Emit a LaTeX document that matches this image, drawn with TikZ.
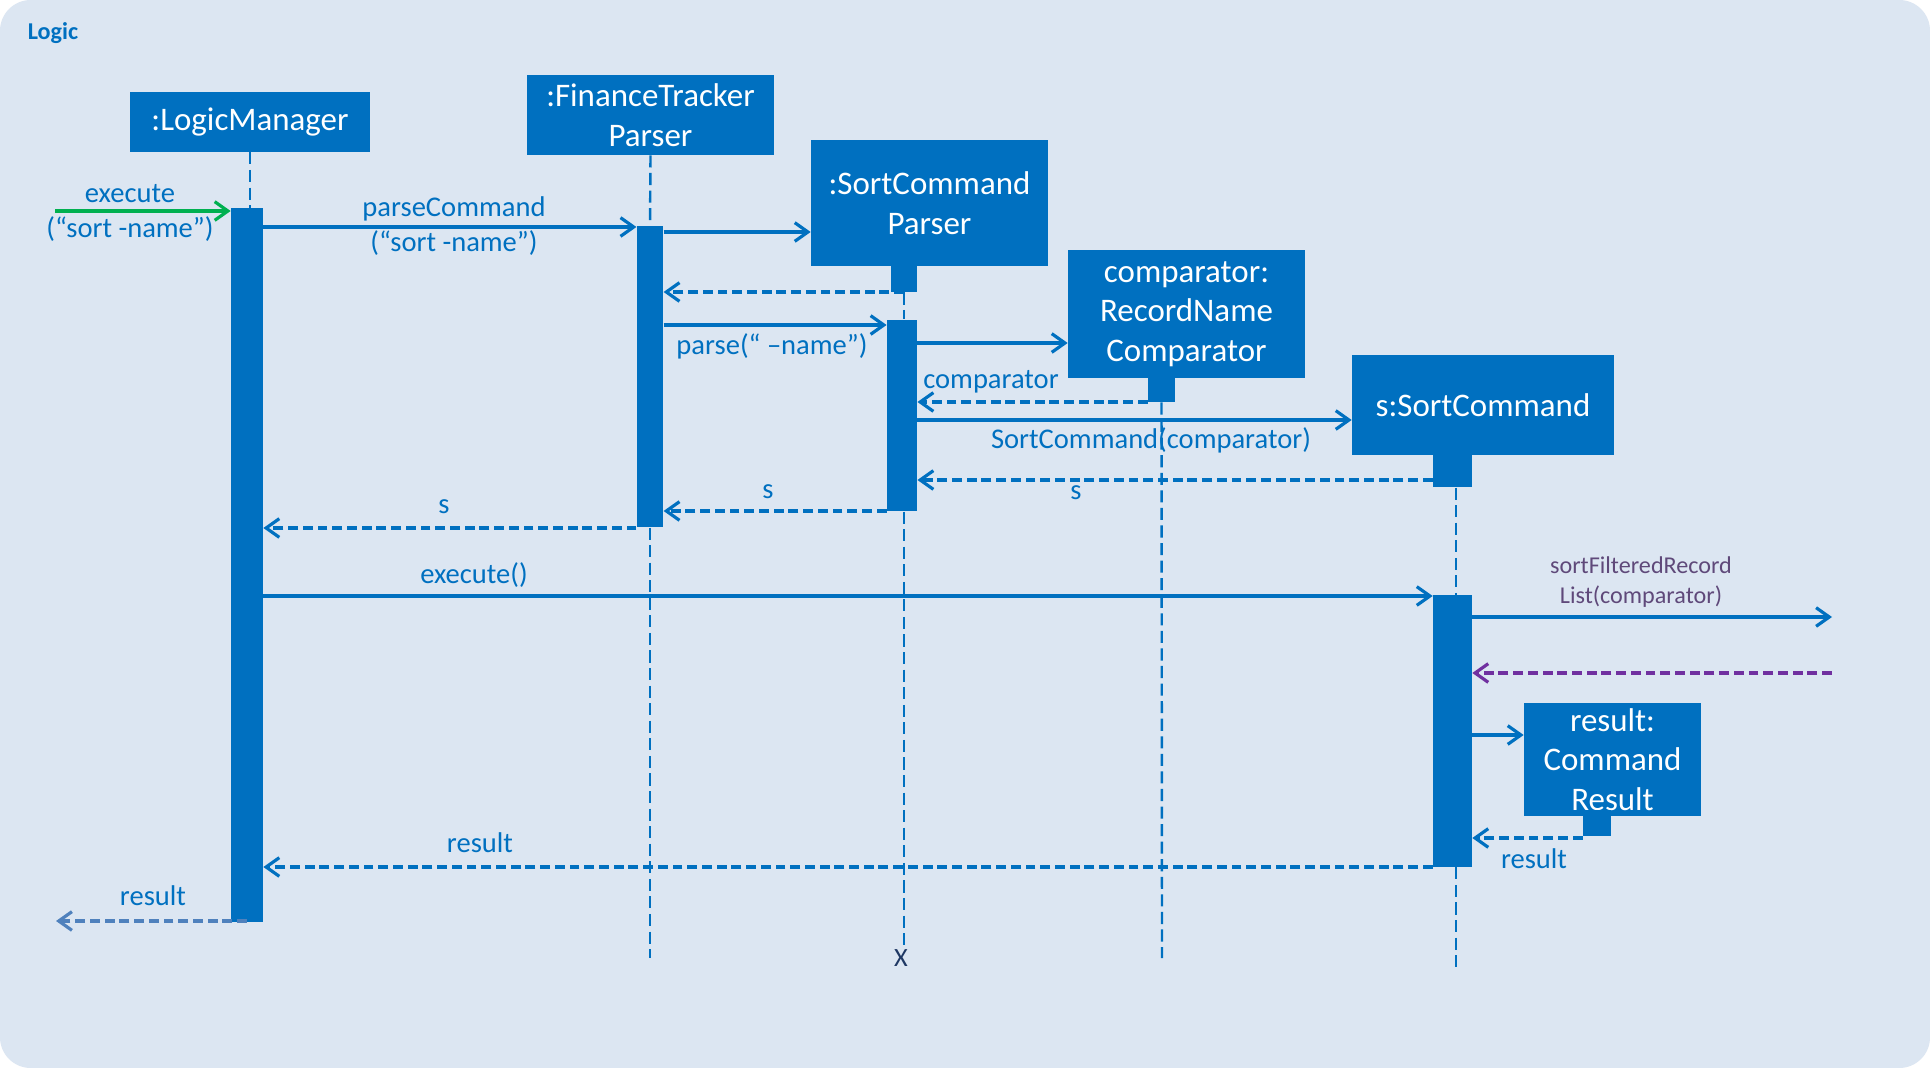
\documentclass[tikz,border=0pt]{standalone}
\usepackage{fontspec}
\setmainfont{Carlito}
\usetikzlibrary{arrows.meta}
\definecolor{bgblue}{HTML}{DCE6F2}
\definecolor{objblue}{HTML}{0070C0}
\definecolor{callgreen}{HTML}{00B050}
\definecolor{retpurple}{HTML}{7030A0}
\definecolor{txtpurple}{HTML}{5F497A}
\definecolor{lightret}{HTML}{4F81BD}
\definecolor{navy}{HTML}{1F3864}

\begin{document}
\begin{tikzpicture}[x=0.016cm,y=-0.016cm,
  obj/.style={fill=objblue,text=white,inner sep=0pt,align=center,font=\fontsize{15}{18}\selectfont},
  actbar/.style={fill=objblue,inner sep=0pt},
  life/.style={draw=objblue,line width=1.1pt,dash pattern=on 5.5pt off 2.5pt},
  msg/.style={draw=objblue,line width=1.45pt,-{Straight Barb[length=6pt,width=8.5pt]}},
  ret/.style={msg,dash pattern=on 4.5pt off 2.2pt},
  lbl/.style={text=objblue,inner sep=0pt,align=center,font=\fontsize{13}{16}\selectfont}]
\useasboundingbox (0,0) rectangle (1930,1068);
\fill[white] (0,0) rectangle (1930,1068);
\fill[bgblue,rounded corners=14pt] (0,0) rectangle (1930,1068);
\node[text=objblue,inner sep=0pt,font=\bfseries\fontsize{11}{13}\selectfont] (title) at (53,33) {Logic};

\node[obj,minimum width=3.84cm,minimum height=0.96cm] (lm) at (250,122) {:LogicManager};
\node[obj,minimum width=3.95cm,minimum height=1.28cm] (ftp) at (650.5,115) {:FinanceTracker\\Parser};
\node[obj,minimum width=3.79cm,minimum height=2.02cm] (scp) at (929.5,203) {:SortCommand\\Parser};
\node[actbar,minimum width=0.42cm,minimum height=0.48cm] (scpstub) at (904,277) {};
\node[obj,minimum width=3.79cm,minimum height=2.05cm] (cmp) at (1186.5,314) {comparator:\\RecordName\\Comparator};
\node[actbar,minimum width=0.43cm,minimum height=0.45cm] (cmpstub) at (1161.5,388) {};
\node[obj,minimum width=4.19cm,minimum height=1.6cm] (sc) at (1483,405) {s:SortCommand};
\node[actbar,minimum width=0.62cm,minimum height=0.58cm] (scstub) at (1452.5,469) {};
\node[obj,minimum width=2.83cm,minimum height=1.81cm] (res) at (1612.5,759.5) {result:\\Command\\Result};
\node[actbar,minimum width=0.45cm,minimum height=0.42cm] (resstub) at (1597,823) {};

\node[actbar,minimum width=0.51cm,minimum height=11.42cm] (lmbar) at (247,565) {};
\node[actbar,minimum width=0.42cm,minimum height=4.82cm] (ftpbar) at (650,376.5) {};
\node[actbar,minimum width=0.48cm,minimum height=3.06cm] (scpbar) at (902,415.5) {};
\node[actbar,minimum width=0.62cm,minimum height=4.35cm] (scbar) at (1452.5,731) {};

\node[text=navy,inner sep=1pt,font=\fontsize{12}{14}\selectfont] (kill) at (901,958) {X};
\coordinate (ftpend) at (650,958);
\coordinate (cmpend) at (1162,958);
\coordinate (scend) at (1456,969);

\draw[life] (lm.south) -- (lm.south |- lmbar.north);
\draw[life] (ftp.south) -- (ftpbar.north);
\draw[life] (ftpbar.south) -- (ftpend);
\draw[life] (scpstub.south) -- (scpstub.south |- scpbar.north);
\draw[life] (scpstub.south |- scpbar.south) -- (scpstub.south |- kill.north);
\draw[life] (cmpstub.south) -- (cmpend);
\draw[life] (scstub.south -| scend) -- (scbar.north -| scend);
\draw[life] (scbar.south -| scend) -- (scend);

\coordinate (start) at (55,211);
\draw[msg,draw=callgreen] (start) -- (lmbar.west |- start);
\node[lbl] (exelbl) at (130,213) {execute\\(“sort -name”)};
\draw[msg] (lmbar.east |- 0,227) -- (ftpbar.west |- 0,227);
\node[lbl] (pclbl) at (454,226.5) {parseCommand\\(“sort -name”)};
\draw[msg] (ftpbar.east |- 0,232) -- (scp.west |- 0,232);
\draw[ret] (scpstub.south |- 0,292) -- (ftpbar.east |- 0,292);
\draw[msg] (ftpbar.east |- 0,325) -- (scpbar.west |- 0,325);
\node[lbl] (parselbl) at (772,346) {parse(“ –name”)};
\draw[msg] (scpbar.east |- 0,343) -- (cmp.west |- 0,343);
\node[lbl] (cmplbl) at (991,382) {comparator};
\draw[ret] (cmpstub.west |- 0,402) -- (scpbar.east |- 0,402);
\draw[msg] (scpbar.east |- 0,420) -- (sc.west |- 0,420);
\node[lbl] (sclbl) at (1151,440) {SortCommand(comparator)};
\draw[ret] (scstub.west |- 0,480) -- (scpbar.east |- 0,480);
\node[lbl] (s1lbl) at (1076,493) {s};
\draw[ret] (scpbar.west |- 0,511) -- (ftpbar.east |- 0,511);
\node[lbl] (s2lbl) at (768,492) {s};
\draw[ret] (ftpbar.west |- 0,528) -- (lmbar.east |- 0,528);
\node[lbl] (s3lbl) at (444,507) {s};
\draw[msg] (lmbar.east |- 0,596) -- (scbar.west |- 0,596);
\node[lbl] (exec2lbl) at (474,575) {execute()};

\coordinate (ext) at (1832,617);
\draw[msg] (scbar.east |- ext) -- (ext);
\node[lbl,text=txtpurple,font=\fontsize{11}{13.5}\selectfont] (sortlbl) at (1641,582) {sortFilteredRecord\\List(comparator)};
\coordinate (extret) at (1832,673);
\draw[ret,draw=retpurple] (extret) -- (scbar.east |- extret);
\draw[msg] (scbar.east |- 0,735) -- (res.west |- 0,735);
\draw[ret] (resstub.west |- 0,838) -- (scbar.east |- 0,838);
\node[lbl] (res1lbl) at (1534,859) {result};
\draw[ret] (scbar.west |- 0,867) -- (lmbar.east |- 0,867);
\node[lbl] (res2lbl) at (480,843) {result};
\coordinate (out) at (56,921);
\draw[ret,draw=lightret] (lmbar.center |- out) -- (out);
\node[lbl] (res3lbl) at (153,896) {result};
\end{tikzpicture}
\end{document}
